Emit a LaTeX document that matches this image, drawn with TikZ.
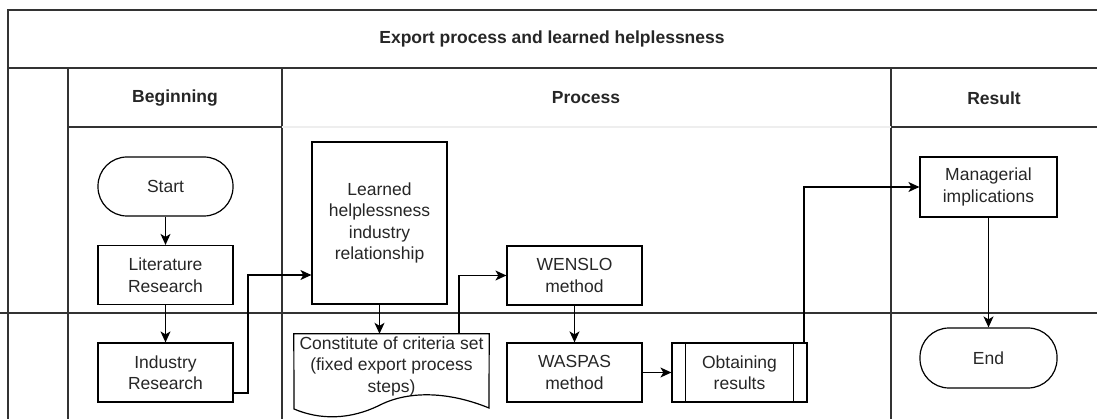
\documentclass[tikz,border=0pt]{standalone}
\usepackage{fontspec}
\setmainfont{Liberation Sans}
\usetikzlibrary{arrows.meta,calc}
\definecolor{frame}{HTML}{333333}
\definecolor{txt}{HTML}{262626}
\definecolor{lightline}{HTML}{EEEEEE}
\begin{document}
\begin{tikzpicture}[x=1pt,y=-1pt,
  every node/.style={font=\fontsize{17.5}{21.5}\selectfont, text=txt, align=center, inner sep=0pt},
  box/.style={draw=black, line width=1.2pt, minimum width=135pt, minimum height=59pt},
  term/.style={box, rounded corners=29pt},
  hdr/.style={font=\fontsize{17.5}{21.5}\selectfont\bfseries},
  lane/.style={draw=frame, line width=1.3pt},
  arr/.style={draw=black, line width=1.3pt, -{Stealth[length=11pt,width=10pt,inset=3pt]}}]
\useasboundingbox (0,0) rectangle (1097,419);
% frame
\draw[lane] (8,419) -- (8,10) -- (1097,10);
\draw[lane] (8,68) -- (1097,68);
\draw[lane] (68,68) -- (68,419);
\draw[lane] (282,68) -- (282,419);
\draw[lane] (891,68) -- (891,419);
\draw[lane] (68,127) -- (282,127);
\draw[lane] (891,127) -- (1097,127);
\draw[draw=lightline, line width=1.3pt] (282,127) -- (891,127);
\draw[lane] (0,313) -- (1097,313);
% headers
\node[hdr] (title) at (552,39) {Export process and learned helplessness};
\node[hdr] (hbeg) at (175,98) {Beginning};
\node[hdr] (hproc) at (586,98) {Process};
\node[hdr] (hres) at (994,98) {Result};
% nodes
\node[term] (start) at (165.5,186.5) {Start};
\node[box] (lit) at (165.5,275) {Literature\\Research};
\node[box] (ind) at (165.5,372.5) {Industry\\Research};
\node[box, minimum height=162pt] (learned) at (379.5,223) {Learned\\helplessness\\industry\\relationship};
\node[minimum width=195pt, minimum height=64pt] (doc) at (391.5,366) {Constitute of criteria set\\(fixed export process\\steps)};
\draw[black, line width=1.2pt] (doc.north west) -- (doc.north east) -- (489,408)
  .. controls (450,392) and (410,390) .. (380,405)
  .. controls (350,420) and (320,420) .. (294,409) -- cycle;
\node[box] (wenslo) at (574.5,275.5) {WENSLO\\method};
\node[box] (waspas) at (574.5,372.5) {WASPAS\\method};
\node[box] (obtain) at (739.5,372.5) {Obtaining\\results};
\draw[black, line width=1.2pt] ([xshift=14pt]obtain.north west) -- ([xshift=14pt]obtain.south west);
\draw[black, line width=1.2pt] ([xshift=-14pt]obtain.north east) -- ([xshift=-14pt]obtain.south east);
\node[box, minimum width=137pt, minimum height=60pt] (manag) at (988.5,187) {Managerial\\implications};
\node[term, minimum width=137pt, minimum height=60pt] (end) at (988.5,358) {End};
% connectors
\draw[arr] (start.south) -- (lit.north);
\draw[arr] (lit.south) -- (ind.north);
\draw[arr] (ind.east |- 0,393) -| (248,275) -- (learned.west |- 0,275);
\draw[arr] (learned.south) -- (learned.south |- doc.north);
\draw[arr] (doc.north -| 459,0) |- (wenslo.west);
\draw[arr] (wenslo.south) -- (waspas.north);
\draw[arr] (waspas.east) -- (obtain.west);
\draw[arr] (obtain.north -| 804,0) |- (manag.west);
\draw[arr] (manag.south) -- (end.north);
\end{tikzpicture}
\end{document}
